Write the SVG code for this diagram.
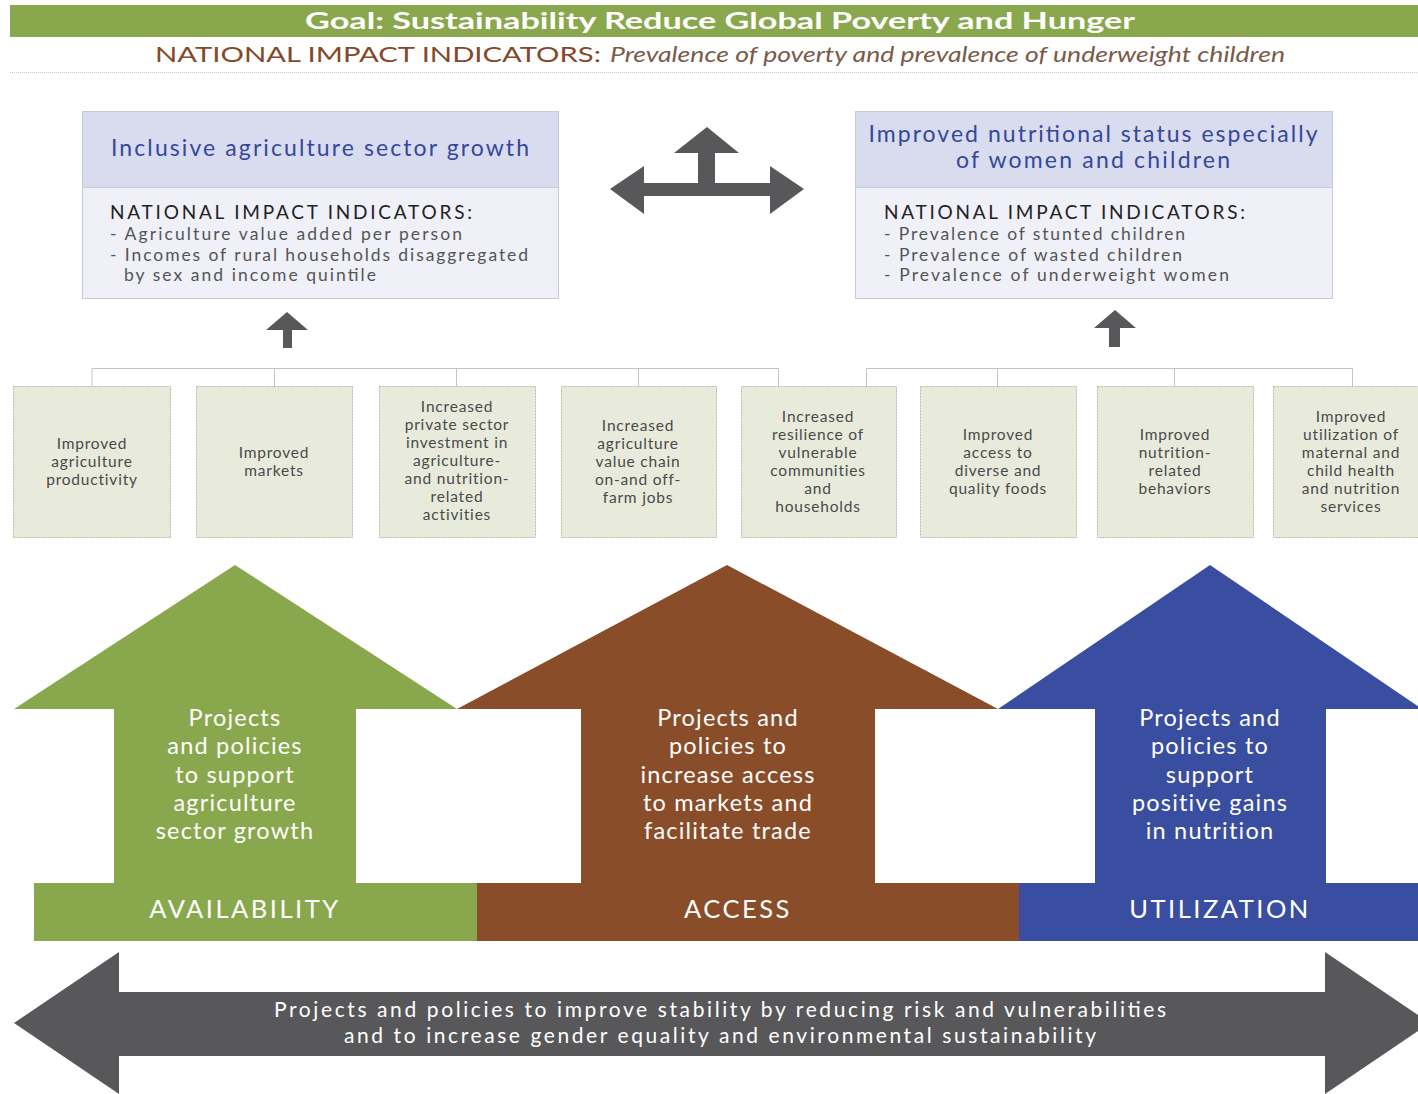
<svg xmlns="http://www.w3.org/2000/svg" width="1418" height="1094" viewBox="0 0 1418 1094">
<style>
text{font-family:Lato,"Open Sans","Liberation Sans",sans-serif}
.hdr{fill:#d9dbee;stroke:#c9cad6;stroke-width:1}
.bdy{fill:#eff0f8;stroke:#c9cad6;stroke-width:1}
.htx{fill:#34489a;font-size:23px}
.nii{fill:#222;font-size:19px}
.ind{fill:#555;font-size:17.5px}
.sb{fill:#e8ebdc;stroke:#b9bba9;stroke-width:1;stroke-dasharray:2 1}
.sbt{fill:#4a4a4a;font-size:15.5px;text-anchor:middle;letter-spacing:0.8px}
.con{fill:none;stroke:#c4c4c4;stroke-width:1}
.gray{fill:#58585a}
.at{fill:#fff;font-size:23.5px;text-anchor:middle;letter-spacing:1.2px}
.bt{fill:#fff;font-size:25.5px;text-anchor:middle;letter-spacing:2.5px}
</style>

<g id="goal">
<rect x="10" y="5" width="1408" height="32" fill="#89a84d"/>
<text x="720" y="29" text-anchor="middle" fill="#fff" font-weight="bold" font-size="22" textLength="830" lengthAdjust="spacingAndGlyphs">Goal: Sustainability Reduce Global Poverty and Hunger</text>
</g>
<g id="national-indicators">
<text x="155" y="62" font-size="21" fill="#84482a" textLength="446" lengthAdjust="spacingAndGlyphs">NATIONAL IMPACT INDICATORS:</text>
<text x="610" y="62" font-size="21" font-style="italic" fill="#7a5a48" textLength="675" lengthAdjust="spacingAndGlyphs">Prevalence of poverty and prevalence of underweight children</text>
<line x1="10" y1="72.5" x2="1418" y2="72.5" stroke="#c8c8c8" stroke-width="1" stroke-dasharray="1 1"/>
</g>

<g id="agri-growth">
<rect class="bdy" x="82.5" y="187.5" width="476" height="111"/>
<rect class="hdr" x="82.5" y="111.5" width="476" height="76"/>
<text class="htx" x="111" y="156" textLength="418">Inclusive agriculture sector growth</text>
<text class="nii" x="110" y="219" textLength="362">NATIONAL IMPACT INDICATORS:</text>
<text class="ind" x="110" y="240" textLength="352">- Agriculture value added per person</text>
<text class="ind" x="110" y="261" textLength="418">- Incomes of rural households disaggregated</text>
<text class="ind" x="124" y="281" textLength="252">by sex and income quintile</text>
</g>

<g id="nutrition-status">
<rect class="bdy" x="855.5" y="187.5" width="477" height="111"/>
<rect class="hdr" x="855.5" y="111.5" width="477" height="76"/>
<text class="htx" x="1093" y="142" text-anchor="middle" textLength="449">Improved nutritional status especially</text>
<text class="htx" x="1093" y="168" text-anchor="middle" textLength="274">of women and children</text>
<text class="nii" x="884" y="219" textLength="361">NATIONAL IMPACT INDICATORS:</text>
<text class="ind" x="884" y="240" textLength="301">- Prevalence of stunted children</text>
<text class="ind" x="884" y="261" textLength="298">- Prevalence of wasted children</text>
<text class="ind" x="884" y="281" textLength="345">- Prevalence of underweight women</text>
</g>

<g id="connectors">
<path class="gray" d="M610,189 L644,166 L644,183 L698,183 L698,153 L674,153 L707,127 L739,153 L715,153 L715,183 L770,183 L770,166 L804,189 L770,214 L770,196 L644,196 L644,214 Z"/>
<path class="gray" d="M287,312 L308,330 L292,330 L292,348 L283,348 L283,330 L266,330 Z"/>
<path class="gray" d="M1115,310 L1136,328 L1120,328 L1120,347 L1109,347 L1109,328 L1094,328 Z"/>
<path class="con" d="M92,387 V368.5 H778.5 V387 M274.5,368.5 V387 M456.5,368.5 V387 M638.5,368.5 V387"/>
<path class="con" d="M866.5,387 V368.5 H1352.5 V387 M997.5,368.5 V387 M1174.5,368.5 V387"/>
</g>

<g id="o1"><rect class="sb" x="13.5" y="386.5" width="157" height="151"/>
<text class="sbt"><tspan x="92" y="449">Improved</tspan><tspan x="92" y="467">agriculture</tspan><tspan x="92" y="485">productivity</tspan></text></g>
<g id="o2"><rect class="sb" x="196.5" y="386.5" width="156" height="151"/>
<text class="sbt"><tspan x="274" y="458">Improved</tspan><tspan x="274" y="476">markets</tspan></text></g>
<g id="o3"><rect class="sb" x="379.5" y="386.5" width="156" height="151"/>
<text class="sbt"><tspan x="457" y="412">Increased</tspan><tspan x="457" y="430">private sector</tspan><tspan x="457" y="448">investment in</tspan><tspan x="457" y="466">agriculture-</tspan><tspan x="457" y="484">and nutrition-</tspan><tspan x="457" y="502">related</tspan><tspan x="457" y="520">activities</tspan></text></g>
<g id="o4"><rect class="sb" x="561.5" y="386.5" width="155" height="151"/>
<text class="sbt"><tspan x="638" y="431">Increased</tspan><tspan x="638" y="449">agriculture</tspan><tspan x="638" y="467">value chain</tspan><tspan x="638" y="485">on-and off-</tspan><tspan x="638" y="503">farm jobs</tspan></text></g>
<g id="o5"><rect class="sb" x="741.5" y="386.5" width="155" height="151"/>
<text class="sbt"><tspan x="818" y="422">Increased</tspan><tspan x="818" y="440">resilience of</tspan><tspan x="818" y="458">vulnerable</tspan><tspan x="818" y="476">communities</tspan><tspan x="818" y="494">and</tspan><tspan x="818" y="512">households</tspan></text></g>
<g id="o6"><rect class="sb" x="920.5" y="386.5" width="156" height="151"/>
<text class="sbt"><tspan x="998" y="440">Improved</tspan><tspan x="998" y="458">access to</tspan><tspan x="998" y="476">diverse and</tspan><tspan x="998" y="494">quality foods</tspan></text></g>
<g id="o7"><rect class="sb" x="1097.5" y="386.5" width="156" height="151"/>
<text class="sbt"><tspan x="1175" y="440">Improved</tspan><tspan x="1175" y="458">nutrition-</tspan><tspan x="1175" y="476">related</tspan><tspan x="1175" y="494">behaviors</tspan></text></g>
<g id="o8"><rect class="sb" x="1273.5" y="386.5" width="156" height="151"/>
<text class="sbt"><tspan x="1351" y="422">Improved</tspan><tspan x="1351" y="440">utilization of</tspan><tspan x="1351" y="458">maternal and</tspan><tspan x="1351" y="476">child health</tspan><tspan x="1351" y="494">and nutrition</tspan><tspan x="1351" y="512">services</tspan></text></g>

<g id="availability">
<path fill="#89a84d" d="M235,565 L457,709 L356,709 L356,883 L477,883 L477,941 L34,941 L34,883 L114,883 L114,709 L14,709 Z"/>
<text class="at"><tspan x="235" y="726">Projects</tspan><tspan x="235" y="754">and policies</tspan><tspan x="235" y="783">to support</tspan><tspan x="235" y="811">agriculture</tspan><tspan x="235" y="839">sector growth</tspan></text>
<text class="bt" x="245" y="918">AVAILABILITY</text>
</g>
<g id="access">
<path fill="#8a4d29" d="M727,565 L998,709 L875,709 L875,883 L1019,883 L1019,941 L477,941 L477,883 L581,883 L581,709 L457,709 Z"/>
<text class="at"><tspan x="728" y="726">Projects and</tspan><tspan x="728" y="754">policies to</tspan><tspan x="728" y="783">increase access</tspan><tspan x="728" y="811">to markets and</tspan><tspan x="728" y="839">facilitate trade</tspan></text>
<text class="bt" x="738" y="918">ACCESS</text>
</g>
<g id="utilization">
<path fill="#394ea0" d="M1210,565 L1422,709 L1326,709 L1326,883 L1418,883 L1418,941 L1019,941 L1019,883 L1095,883 L1095,709 L998,709 Z"/>
<text class="at"><tspan x="1210" y="726">Projects and</tspan><tspan x="1210" y="754">policies to</tspan><tspan x="1210" y="783">support</tspan><tspan x="1210" y="811">positive gains</tspan><tspan x="1210" y="839">in nutrition</tspan></text>
<text class="bt" x="1220" y="918">UTILIZATION</text>
</g>

<g id="stability">
<path class="gray" d="M14,1023 L119,952 L119,992 L1325,992 L1325,952 L1430,1023 L1325,1094 L1325,1056 L119,1056 L119,1094 Z"/>
<text fill="#fff" font-size="21" text-anchor="middle"><tspan x="720" y="1017" textLength="892">Projects and policies to improve stability by reducing risk and vulnerabilities</tspan><tspan x="720" y="1043" textLength="752">and to increase gender equality and environmental sustainability</tspan></text>
</g>
</svg>
